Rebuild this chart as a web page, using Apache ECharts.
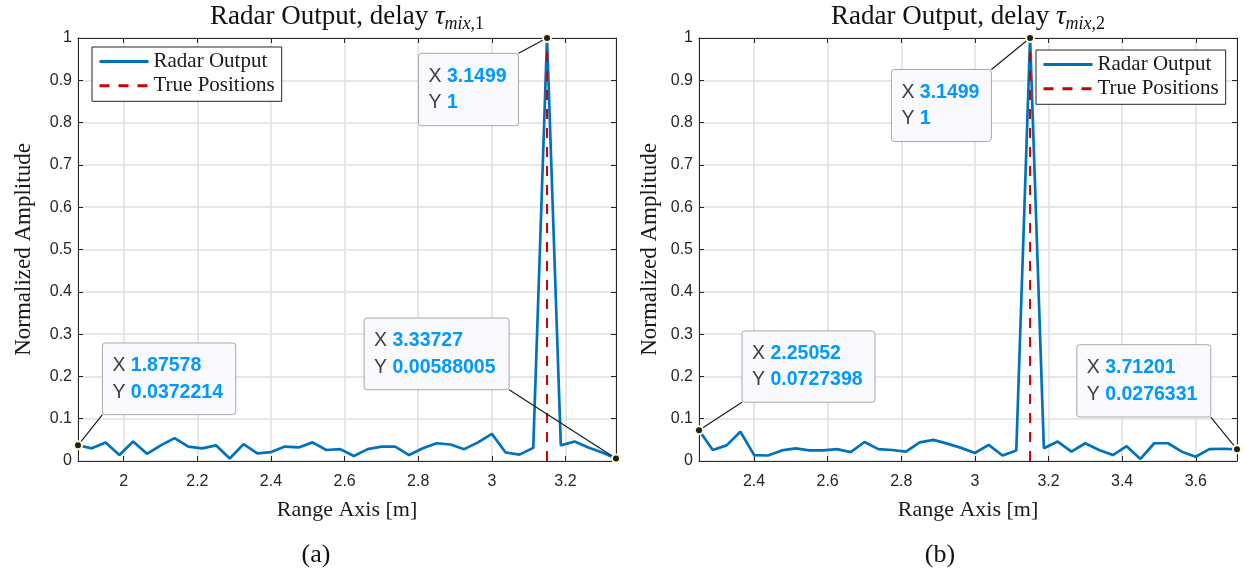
<!DOCTYPE html>
<html>
<head>
<meta charset="utf-8">
<script src="https://cdn.jsdelivr.net/npm/echarts@6/dist/echarts.min.js"></script>
<style>
html,body{margin:0;padding:0;background:#ffffff;}
#c{width:1245px;height:581px;}
</style>
</head>
<body>
<div id="c"></div>
<script>
// ---- data ----
const rangeA = [1.87578, 1.91325, 1.95073, 1.98820, 2.02568, 2.06315, 2.10062, 2.13810, 2.17557, 2.21305,
                2.25052, 2.28800, 2.32547, 2.36294, 2.40042, 2.43789, 2.47537, 2.51284, 2.55031, 2.58779,
                2.62526, 2.66274, 2.70021, 2.73768, 2.77516, 2.81263, 2.85011, 2.88758, 2.92505, 2.96253,
                3.00000, 3.03748, 3.07495, 3.11243, 3.14990, 3.18737, 3.22485, 3.26232, 3.29980, 3.33727];
const ampA = [0.0372214, 0.030, 0.044, 0.014, 0.046, 0.017, 0.037, 0.054, 0.034, 0.030,
              0.037, 0.006, 0.040, 0.018, 0.021, 0.034, 0.032, 0.044, 0.026, 0.028,
              0.012, 0.028, 0.034, 0.034, 0.014, 0.030, 0.042, 0.039, 0.028, 0.044,
              0.064, 0.020, 0.015, 0.031, 1, 0.037, 0.046, 0.032, 0.020, 0.00588005];
const rangeB = [2.25052, 2.28800, 2.32547, 2.36294, 2.40042, 2.43789, 2.47537, 2.51284, 2.55031, 2.58779,
                2.62526, 2.66274, 2.70021, 2.73768, 2.77516, 2.81263, 2.85011, 2.88758, 2.92505, 2.96253,
                3.00000, 3.03748, 3.07495, 3.11243, 3.14990, 3.18737, 3.22485, 3.26232, 3.29980, 3.33727,
                3.37474, 3.41222, 3.44969, 3.48717, 3.52464, 3.56211, 3.59959, 3.63706, 3.67454, 3.71201];
const ampB = [0.0727398, 0.026, 0.037, 0.069, 0.014, 0.013, 0.025, 0.030, 0.025, 0.025,
              0.028, 0.021, 0.045, 0.028, 0.026, 0.022, 0.044, 0.050, 0.041, 0.031,
              0.019, 0.038, 0.013, 0.025, 1, 0.030, 0.046, 0.022, 0.042, 0.026,
              0.014, 0.035, 0.005, 0.042, 0.042, 0.022, 0.010, 0.028, 0.029, 0.0276331];
const truePosA = [3.1499];
const truePosB = [3.1499];
const trueSpan = [0, 1];
const tipXA = [3.1499, 1.87578, 3.33727];
const tipYA = [1, 0.0372214, 0.00588005];
const tipXB = [3.1499, 2.25052, 3.71201];
const tipYB = [1, 0.0727398, 0.0276331];
const seriesNames = ['Radar Output', 'True Positions'];
const panelLabels = ['(a)', '(b)'];
const subIdx = ['1', '2'];

// ---- styling of the data-tip boxes (pixel offsets from the tip point) ----
const tipBoxA = [
  {dx: -128.5, dy: 15.3, w: 100, h: 72.4, corner: 'tr'},
  {dx: 24.4, dy: -102.3, w: 133.3, h: 71.7, corner: 'bl'},
  {dx: -251.9, dy: -140.5, w: 145, h: 71.7, corner: 'br'}
];
const tipBoxB = [
  {dx: -138.7, dy: 31.5, w: 100, h: 72, corner: 'tr'},
  {dx: 43, dy: -99.3, w: 133, h: 71.3, corner: 'bl'},
  {dx: -160.2, dy: -104.6, w: 134, h: 72.3, corner: 'br'}
];

const SERIF = "'Liberation Serif','Times New Roman',serif";
const SANS = "'Liberation Sans',Arial,Helvetica,sans-serif";
const AX = '#262626';
const GRIDC = '#dfdfdf';

function zip(a, b) { return a.map((v, i) => [v, b[i]]); }

function tipRender(boxes) {
  return function (params, api) {
    const x = api.value(0), y = api.value(1);
    const p = api.coord([x, y]);
    const b = boxes[params.dataIndex];
    const bx = p[0] + b.dx, by = p[1] + b.dy;
    const cx = b.corner[1] === 'r' ? bx + b.w : bx;
    const cy = b.corner[0] === 'b' ? by + b.h : by;
    return {
      type: 'group',
      children: [
        {type: 'line', shape: {x1: p[0], y1: p[1], x2: cx, y2: cy}, style: {stroke: '#1a1a1a', lineWidth: 1.2}},
        {type: 'rect', shape: {x: bx, y: by, width: b.w, height: b.h, r: 3},
         style: {fill: '#f9f9fe', stroke: '#a8a8a8', lineWidth: 1}},
        {type: 'text', x: bx + 10, y: by + b.h / 2,
         style: {
           text: '{k|X} {v|' + String(x) + '}\n{k|Y} {v|' + String(y) + '}',
           align: 'left', verticalAlign: 'middle',
           fontFamily: SANS, fontSize: 19.5, lineHeight: 26.7,
           rich: {
             k: {fill: '#404040', fontFamily: SANS, fontSize: 19.5, lineHeight: 26.7},
             v: {fill: '#0099ff', fontFamily: SANS, fontSize: 19.5, fontWeight: 'bold', lineHeight: 26.7}
           }
         }},
        {type: 'circle', shape: {cx: p[0], cy: p[1], r: 5}, style: {fill: '#fbf8d2'}},
        {type: 'circle', shape: {cx: p[0], cy: p[1], r: 3}, style: {fill: '#1f1f1f'}}
      ]
    };
  };
}

function xLabelFmt(v) {
  const k = v * 5;
  if (Math.abs(k - Math.round(k)) > 1e-6) return '';
  return String(Math.round(v * 10) / 10);
}

function xAxes(gi, rng) {
  const base = {
    type: 'value', gridIndex: gi, min: rng[0], max: rng[rng.length - 1], splitNumber: 7
  };
  return [
    Object.assign({}, base, {
      position: 'bottom',
      name: 'Range Axis [m]', nameLocation: 'middle', nameGap: 38,
      nameTextStyle: {fontFamily: SERIF, fontSize: 22, color: '#1a1a1a'},
      axisLine: {show: true, onZero: false, lineStyle: {color: AX, width: 1}},
      axisTick: {show: true, inside: true, length: 5, lineStyle: {color: AX}},
      axisLabel: {color: AX, fontFamily: SANS, fontSize: 16, margin: 13, formatter: xLabelFmt},
      splitLine: {show: true, lineStyle: {color: GRIDC, width: 1.5}}
    }),
    Object.assign({}, base, {
      position: 'top',
      axisLine: {show: true, onZero: false, lineStyle: {color: AX, width: 1}},
      axisTick: {show: true, inside: true, length: 5, lineStyle: {color: AX}},
      axisLabel: {show: false},
      splitLine: {show: false}
    })
  ];
}

function yAxes(gi, gap) {
  const base = {type: 'value', gridIndex: gi, min: 0, max: 1, interval: 0.1};
  return [
    Object.assign({}, base, {
      position: 'left',
      name: 'Normalized Amplitude', nameLocation: 'middle', nameGap: gap,
      nameTextStyle: {fontFamily: SERIF, fontSize: 23, color: '#1a1a1a'},
      axisLine: {show: true, onZero: false, lineStyle: {color: AX, width: 1}},
      axisTick: {show: true, inside: true, length: 5, lineStyle: {color: AX}},
      axisLabel: {color: AX, fontFamily: SANS, fontSize: 16, margin: 6},
      splitLine: {show: true, lineStyle: {color: GRIDC, width: 1.5}}
    }),
    Object.assign({}, base, {
      position: 'right',
      axisLine: {show: true, onZero: false, lineStyle: {color: AX, width: 1}},
      axisTick: {show: true, inside: true, length: 5, lineStyle: {color: AX}},
      axisLabel: {show: false},
      splitLine: {show: false}
    })
  ];
}

function panelSeries(gi, rng, amp, truePos, tipX, tipY, boxes) {
  const xi = gi * 2, yi = gi * 2;
  return [
    {type: 'line', name: seriesNames[0], xAxisIndex: xi, yAxisIndex: yi,
     data: zip(rng, amp), symbol: 'none', showSymbol: false,
     lineStyle: {color: '#0072BD', width: 2.7}, itemStyle: {color: '#0072BD'}, z: 3, animation: false},
    {type: 'line', name: seriesNames[1], xAxisIndex: xi, yAxisIndex: yi,
     data: trueSpan.map(v => [truePos[0], v]), symbol: 'none', showSymbol: false,
     lineStyle: {color: '#cc0000', width: 2, type: [10, 9]}, itemStyle: {color: '#cc0000'}, z: 4, animation: false},
    {type: 'custom', xAxisIndex: xi, yAxisIndex: yi, data: zip(tipX, tipY),
     renderItem: tipRender(boxes), clip: false, z: 10, silent: true, animation: false}
  ];
}

function legendOf(left, top) {
  return {
    orient: 'vertical', left: left, top: top,
    padding: [4, 7, 5, 6], itemGap: 3.3, itemWidth: 49, itemHeight: 14,
    backgroundColor: '#ffffff', borderColor: AX, borderWidth: 1, borderRadius: 0,
    textStyle: {fontFamily: SERIF, fontSize: 21, color: '#1a1a1a', lineHeight: 20},
    lineStyle: {width: 3},
    itemStyle: {color: 'rgba(0,0,0,0)', borderWidth: 0, opacity: 0},
    selectedMode: false,
    data: seriesNames
  };
}

function titleOf(center, k) {
  const base = {fontFamily: SERIF, fontWeight: 'normal', color: '#111'};
  return {
    text: '{n|Radar Output, delay }{t|\u03c4}{s|mix}{c|,' + subIdx[k] + '}',
    left: center, top: 0, textAlign: 'center', padding: 0,
    textStyle: {
      fontWeight: 'normal', fontFamily: SERIF,
      rich: {
        n: Object.assign({}, base, {fontSize: 27}),
        t: Object.assign({}, base, {fontSize: 27, fontStyle: 'italic'}),
        s: Object.assign({}, base, {fontSize: 18, fontStyle: 'italic', padding: [15, 0, 0, 0]}),
        c: Object.assign({}, base, {fontSize: 18, padding: [15, 0, 0, 0]})
      }
    }
  };
}

const chart = echarts.init(document.getElementById('c'), null, {renderer: 'canvas'});
chart.setOption({
  animation: false,
  backgroundColor: '#ffffff',
  textStyle: {fontFamily: SANS},
  title: [
    titleOf(347, 0),
    titleOf(968, 1),
    {text: panelLabels[0], left: 316, top: 542, textAlign: 'center', padding: 0,
     textStyle: {fontFamily: SERIF, fontSize: 26, fontWeight: 'normal', color: '#111'}},
    {text: panelLabels[1], left: 940, top: 542, textAlign: 'center', padding: 0,
     textStyle: {fontFamily: SERIF, fontSize: 26, fontWeight: 'normal', color: '#111'}}
  ],
  legend: [legendOf(92, 47), legendOf(1036, 50)],
  grid: [
    {left: 78, top: 38, width: 538, height: 423, containLabel: false, show: false},
    {left: 699, top: 38, width: 538, height: 423, containLabel: false, show: false}
  ],
  xAxis: xAxes(0, rangeA).concat(xAxes(1, rangeB)),
  yAxis: yAxes(0, 43).concat(yAxes(1, 38)),
  series: panelSeries(0, rangeA, ampA, truePosA, tipXA, tipYA, tipBoxA)
    .concat(panelSeries(1, rangeB, ampB, truePosB, tipXB, tipYB, tipBoxB))
});
</script>
</body>
</html>
